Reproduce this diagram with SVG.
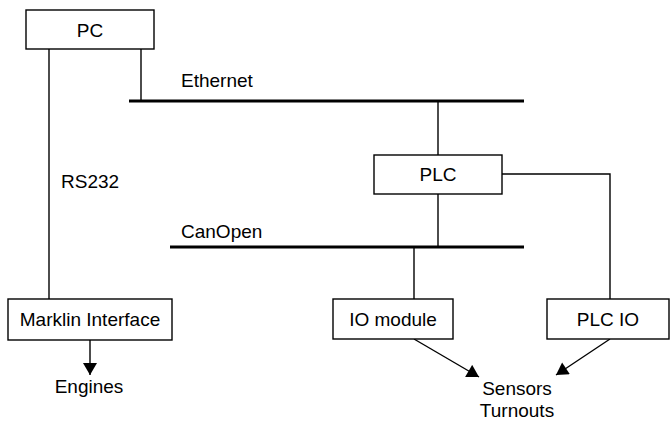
<svg xmlns="http://www.w3.org/2000/svg" width="670" height="421" viewBox="0 0 670 421">
<style>
.box{fill:#fff;stroke:#000;stroke-width:1.4}
.ln{fill:none;stroke:#000;stroke-width:1.4}
.bus{fill:none;stroke:#000;stroke-width:3}
text{font-family:"Liberation Sans",Arial,sans-serif;font-size:19px;fill:#000}
.c{text-anchor:middle}
</style>
<defs>
<marker id="ah" markerUnits="userSpaceOnUse" markerWidth="14" markerHeight="14" viewBox="0 0 12 14" refX="12" refY="7" orient="auto">
<path d="M0,0 L12,7 L0,14 Z" fill="#000"/>
</marker>
</defs>
<g id="connectors">
<line class="ln" x1="49" y1="49" x2="49" y2="299"/>
<line class="ln" x1="141" y1="49" x2="141" y2="101"/>
<line class="bus" x1="129" y1="101" x2="524" y2="101"/>
<line class="ln" x1="438" y1="101" x2="438" y2="155"/>
<line class="ln" x1="438" y1="194" x2="438" y2="247"/>
<polyline class="ln" points="502,174 610,174 610,299"/>
<line class="bus" x1="170" y1="247" x2="524" y2="247"/>
<line class="ln" x1="414" y1="247" x2="414" y2="299"/>
<line class="ln" x1="90" y1="340" x2="90" y2="375" marker-end="url(#ah)"/>
<line class="ln" x1="414" y1="339" x2="479" y2="377" marker-end="url(#ah)"/>
<line class="ln" x1="610" y1="339" x2="556" y2="375" marker-end="url(#ah)"/>
</g>
<g id="labels">
<text x="181" y="87">Ethernet</text>
<text x="61" y="188">RS232</text>
<text x="181" y="238">CanOpen</text>
</g>
<g id="pc"><rect class="box" x="26" y="10" width="128" height="39"/><text class="c" x="90" y="37">PC</text></g>
<g id="plc"><rect class="box" x="374" y="155" width="128" height="39"/><text class="c" x="438" y="181">PLC</text></g>
<g id="marklin"><rect class="box" x="8" y="299" width="164" height="41"/><text class="c" x="90" y="326">Marklin Interface</text></g>
<g id="iomodule"><rect class="box" x="333" y="299" width="120" height="40"/><text class="c" x="393" y="326">IO module</text></g>
<g id="plcio"><rect class="box" x="547" y="299" width="122" height="40"/><text class="c" x="608" y="326">PLC IO</text></g>
<g id="engines"><text class="c" x="89" y="393">Engines</text></g>
<g id="sensors"><text class="c" x="517" y="395">Sensors</text><text class="c" x="517" y="417">Turnouts</text></g>
</svg>
